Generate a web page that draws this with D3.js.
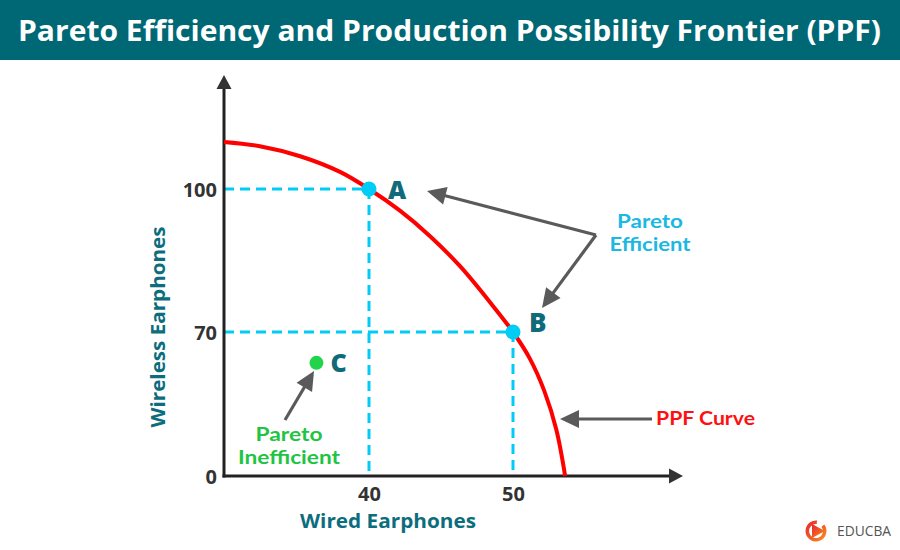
<!DOCTYPE html>
<html><head><meta charset="utf-8">
<script src="https://cdn.jsdelivr.net/npm/d3@7"></script>
<style>body{margin:0;background:#fff}svg{display:block}</style>
</head><body>
<svg id="c" width="900" height="550"></svg>
<script>
// ---- data ----
const title = "Pareto Efficiency and Production Possibility Frontier (PPF)";
const xLabel = "Wired Earphones";
const yLabel = "Wireless Earphones";
const xTicks = [40, 50];
const yTicks = [0, 70, 100];
// PPF curve (wired, wireless)
const curveWired =    [0,    9.9,  21.0,  32.0,  40,  42.15, 44.24, 46.32, 48.40, 50, 51.18, 52.22, 53.06, 53.68];
const curveWireless = [109.9,109.0,106.9, 103.6, 100, 95.45, 90.10, 83.80, 76.25, 70, 57.17, 41.13, 22.46, 0];
const pointNames = ["A", "B", "C"];
const pointWired = [40, 50, 25.5];
const pointWireless = [100, 70, 55];

const svg = d3.select("#c");
const font = "'Open Sans', 'DejaVu Sans', sans-serif";
const font2 = "Lato, 'Open Sans', sans-serif";

// title bar
svg.append("rect").attr("x",0).attr("y",0).attr("width",900).attr("height",60).attr("fill","#006775");
svg.append("text").attr("x",18).attr("y",41).attr("fill","#fff")
  .attr("font-family",font).attr("font-weight",700).attr("font-size",29)
  .attr("textLength",863).attr("lengthAdjust","spacingAndGlyphs").text(title);

// scales (schematic axis: piecewise linear)
const x = d3.scaleLinear().domain([0,40,50,62]).range([224,369,513,683]);
const y = d3.scaleLinear().domain([0,70,100,124]).range([476,332,189,75]);

// dashed guides
const cyan = "#00ccf5";
const guides = svg.append("g").attr("stroke",cyan).attr("stroke-width",3).attr("stroke-dasharray","10,6").attr("fill","none");
[0,1].forEach(i=>{
  guides.append("line").attr("x1",x(0)).attr("x2",x(pointWired[i])).attr("y1",y(pointWireless[i])).attr("y2",y(pointWireless[i]));
  guides.append("line").attr("x1",x(pointWired[i])).attr("x2",x(pointWired[i])).attr("y1",y(pointWireless[i])).attr("y2",y(0));
});

// axes
const axisCol = "#222";
svg.append("line").attr("x1",x(0)).attr("x2",x(0)).attr("y1",y(0)+1.5).attr("y2",y(124)+12).attr("stroke",axisCol).attr("stroke-width",3);
svg.append("line").attr("x1",x(0)-1.5).attr("x2",x(62)-12).attr("y1",y(0)).attr("y2",y(0)).attr("stroke",axisCol).attr("stroke-width",3);
svg.append("path").attr("fill","#333")
  .attr("d",`M${x(0)},${y(124)} L${x(0)-7.5},${y(124)+14} L${x(0)+7.5},${y(124)+14}Z`);
svg.append("path").attr("fill","#333")
  .attr("d",`M${x(62)},${y(0)} L${x(62)-14},${y(0)-7.5} L${x(62)-14},${y(0)+7.5}Z`);

// tick labels via axes
const yAxis = svg.append("g").attr("transform",`translate(${x(0)-7},0)`)
  .call(d3.axisLeft(y).tickValues(yTicks).tickSize(0).tickPadding(0).tickFormat(d3.format("d")));
const xAxis = svg.append("g").attr("transform",`translate(0,${y(0)+5})`)
  .call(d3.axisBottom(x).tickValues(xTicks).tickSize(0).tickPadding(0).tickFormat(d3.format("d")));
[yAxis,xAxis].forEach(g=>{
  g.select(".domain").remove();
  g.selectAll("text").attr("font-family",font).attr("font-weight",700).attr("font-size",20).attr("fill","#333");
});
yAxis.selectAll("text").attr("dy","0.36em");
xAxis.selectAll("text").attr("dy","1.0em");

// axis titles
const teal = "#0c6d7e";
svg.append("text").attr("x",388).attr("y",528).attr("text-anchor","middle").attr("fill",teal)
  .attr("font-family",font).attr("font-weight",700).attr("font-size",19)
  .attr("textLength",176).attr("lengthAdjust","spacingAndGlyphs").text(xLabel);
svg.append("text").attr("transform","translate(165,327) rotate(-90)").attr("text-anchor","middle").attr("fill",teal)
  .attr("font-family",font).attr("font-weight",700).attr("font-size",19)
  .attr("textLength",201).attr("lengthAdjust","spacingAndGlyphs").text(yLabel);

// PPF curve
const curveData = curveWired.map((w,i)=>[w,curveWireless[i]]);
svg.append("path").datum(curveData).attr("fill","none").attr("stroke","#ff0000").attr("stroke-width",4)
  .attr("d", d3.line().x(d=>x(d[0])).y(d=>y(d[1])).curve(d3.curveCatmullRom.alpha(0.5)));

// points
const ptCol = [cyan, cyan, "#22d44a"];
const ptR = [7.5, 7.5, 7];
pointNames.forEach((n,i)=>{
  svg.append("circle").attr("cx",x(pointWired[i])).attr("cy",y(pointWireless[i])).attr("r",ptR[i]).attr("fill",ptCol[i]);
});
const lblDx = [19, 16, 14];
const lblDy = [1, -9, 0];
const lblSize = [25, 26, 25];
pointNames.forEach((n,i)=>{
  svg.append("text").attr("x",x(pointWired[i])+lblDx[i]).attr("y",y(pointWireless[i])+lblDy[i]).attr("dy","0.36em")
    .attr("fill","#0f6a7a").attr("font-family",font).attr("font-weight",800).attr("font-size",lblSize[i]).text(n);
});

// annotation arrows
const gray = "#5a5a5a";
function arrow(x1,y1,x2,y2){
  const ang = Math.atan2(y2-y1,x2-x1), L=19, W=9;
  const bx = x2 - L*Math.cos(ang), by = y2 - L*Math.sin(ang);
  svg.append("line").attr("x1",x1).attr("y1",y1).attr("x2",bx+3*Math.cos(ang)).attr("y2",by+3*Math.sin(ang))
    .attr("stroke",gray).attr("stroke-width",3.2);
  const px = -Math.sin(ang)*W, py = Math.cos(ang)*W;
  svg.append("path").attr("fill",gray)
    .attr("d",`M${x2},${y2} L${bx+px},${by+py} L${bx-px},${by-py}Z`);
}
arrow(596,235,427,191);
arrow(596,235,542,308);
arrow(285,420,314,371);
arrow(652,419,560,419);

function label(lines, cx, y0, lh, col, size, anchor, widths){
  lines.forEach((l,i)=>{
    svg.append("text").attr("fill",col).attr("font-family",font2).attr("font-weight",700)
      .attr("font-size",size).attr("text-anchor",anchor||"middle")
      .attr("x",cx).attr("y",y0+i*lh).attr("textLength",widths[i]).attr("lengthAdjust","spacingAndGlyphs").text(l);
  });
}
label(["Pareto","Efficient"], 650, 228, 23, "#1ab8e2", 18.5, "middle", [66, 81]);
label(["Pareto","Inefficient"], 289, 441, 23, "#1fc443", 18.5, "middle", [67, 102]);
label(["PPF Curve"], 656, 425, 0, "#ff1010", 18.5, "start", [99]);

// logo
const defs = svg.append("defs");
const gr = defs.append("linearGradient").attr("id","lg").attr("x1","0").attr("y1","0").attr("x2","1").attr("y2","1");
gr.append("stop").attr("offset","0").attr("stop-color","#e8212e");
gr.append("stop").attr("offset","1").attr("stop-color","#f7941d");
const arcG = d3.arc().innerRadius(7).outerRadius(10.5).startAngle(0.9).endAngle(2*Math.PI+0.1);
svg.append("path").attr("transform","translate(816,531)").attr("d",arcG()).attr("fill","url(#lg)");
svg.append("path").attr("d","M812,524 L825,531 L812,538 Z").attr("fill","url(#lg)");
svg.append("text").attr("x",837).attr("y",536).attr("fill","#555").attr("font-family",font)
  .attr("font-size",14).attr("textLength",54).attr("lengthAdjust","spacingAndGlyphs").text("EDUCBA");
</script>
</body></html>
